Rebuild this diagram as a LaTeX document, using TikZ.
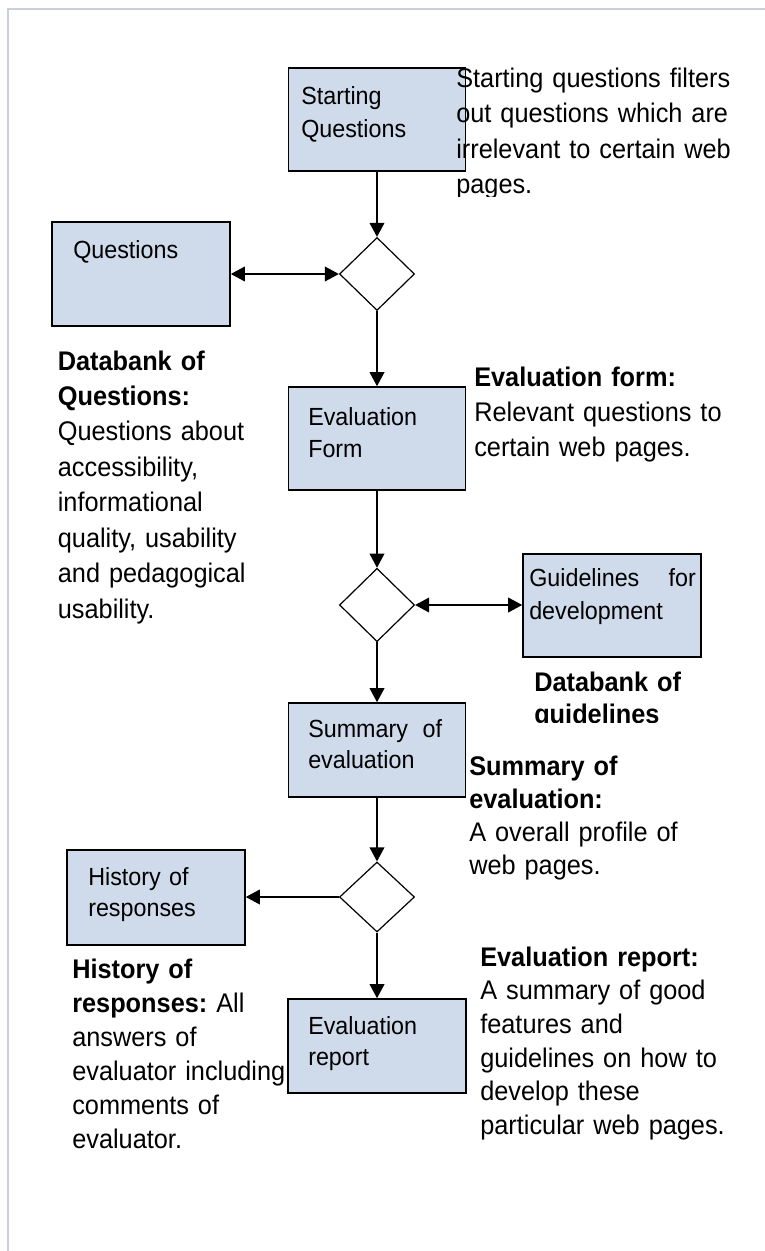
\documentclass[tikz,border=0pt]{standalone}
\usepackage{fontspec}
\setmainfont{Liberation Sans}[FakeStretch=0.94]
\usetikzlibrary{shapes.geometric,arrows.meta}
\definecolor{boxfill}{RGB}{207,219,234}
\definecolor{framec}{RGB}{205,205,224}
\begin{document}
\frenchspacing
\begin{tikzpicture}[x=0.75pt,y=-0.75pt,
  box/.style 2 args={rectangle, draw=black, line width=1.2pt, fill=boxfill, inner sep=0pt,
    minimum width=#1*0.75pt, minimum height=#2*0.75pt},
  dia/.style 2 args={diamond, draw=black, line width=0.9pt, fill=white, inner sep=0pt,
    minimum width=#1*0.75pt, minimum height=#2*0.75pt},
  sidetxt/.style={anchor=base west, inner sep=0pt, align=left, text width=300pt,
    font=\fontsize{20.2}{#1}\selectfont},
  boxtxt/.style={anchor=base west, inner sep=0pt, align=left, text width=130pt,
    font=\fontsize{18.6}{#1}\selectfont},
  conn/.style={line width=1.1pt},
  >={Triangle[length=10.5pt,width=11pt]}
]
\useasboundingbox (0,0) rectangle (764,1251);
\fill[white] (0,0) rectangle (764,1251);
\draw[framec, line width=1.5pt] (8.3,1252) -- (8.3,9.5) -- (765,9.5);

% boxes
\node[box={177}{103}] (sq) at (377,119.5) {};
\node[box={178}{104}] (q)  at (141,274) {};
\node[box={177}{103}] (ef) at (377,438.5) {};
\node[box={178}{103}] (gd) at (612,605.5) {};
\node[box={177}{94}]  (se) at (377,750) {};
\node[box={178}{95}]  (hr) at (156,897.5) {};
\node[box={178}{94}]  (er) at (377,1046) {};

% diamonds
\node[dia={75}{73}] (d1) at (377,274) {};
\node[dia={75}{73.4}] (d2) at (377,605) {};
\node[dia={75}{70}] (d3) at (377,897) {};

% box texts
\node[boxtxt=24.75pt] (sqt) at (301,104.5) {Starting\\Questions};
\node[boxtxt=24pt] (qt) at (73,259) {Questions};
\node[boxtxt=24.5pt] (eft) at (308,425) {Evaluation\\Form};
\node[boxtxt=25pt] (gdt) at (529,586.5) {Guidelines\hspace{22pt}for\\development};
\node[boxtxt=23.25pt] (set) at (308,737) {Summary\hspace{11pt}of\\evaluation};
\node[boxtxt=23.25pt] (hrt) at (88,885) {History of\\responses};
\node[boxtxt=23.25pt] (ert) at (308,1034.5) {Evaluation\\report};

% connectors
\draw[conn,->] (sq.south) -- (d1.north);
\draw[conn,<->] (d1.west -| q.east) -- (d1.west);
\draw[conn,->] (d1.south) -- (ef.north);
\draw[conn,->] (ef.south) -- (d2.north);
\draw[conn,<->] (d2.east) -- (d2.east -| gd.west);
\draw[conn,->] (d2.south) -- (se.north);
\draw[conn,->] (se.south) -- (d3.north);
\draw[conn,->] (d3.west) -- (d3.west -| hr.east);
\draw[conn,->] (d3.south) -- (er.north);

% side texts
\begin{scope}
\clip (440,40) rectangle (764,197);
\node[sidetxt=26.5pt] (sqside) at (456,87.5) {Starting questions filters\\out questions which are\\irrelevant to certain web\\pages.};
\end{scope}
\node[sidetxt=26.6pt] (dbq) at (57.6,370) {\textbf{Databank of}\\\textbf{Questions:}\\Questions about\\accessibility,\\informational\\quality, usability\\and pedagogical\\usability.};
\node[sidetxt=26.3pt] (eff) at (474,386) {\textbf{Evaluation form:}\\Relevant questions to\\certain web pages.};
\begin{scope}
\clip (500,650) rectangle (764,722);
\node[sidetxt=24pt] (dbg) at (534,691) {\textbf{Databank of}\\\textbf{guidelines}};
\end{scope}
\node[sidetxt=24.75pt] (sum) at (469,775) {\textbf{Summary of}\\\textbf{evaluation:}\\A overall profile of\\web pages.};
\node[sidetxt=25.5pt] (hist) at (72,978) {\textbf{History of}\\\textbf{responses:} All\\answers of\\evaluator including\\comments of\\evaluator.};
\node[sidetxt=25.3pt] (rep) at (480,966) {\textbf{Evaluation report:}\\A summary of good\\features and\\guidelines on how to\\develop these\\particular web pages.};
\end{tikzpicture}
\end{document}
